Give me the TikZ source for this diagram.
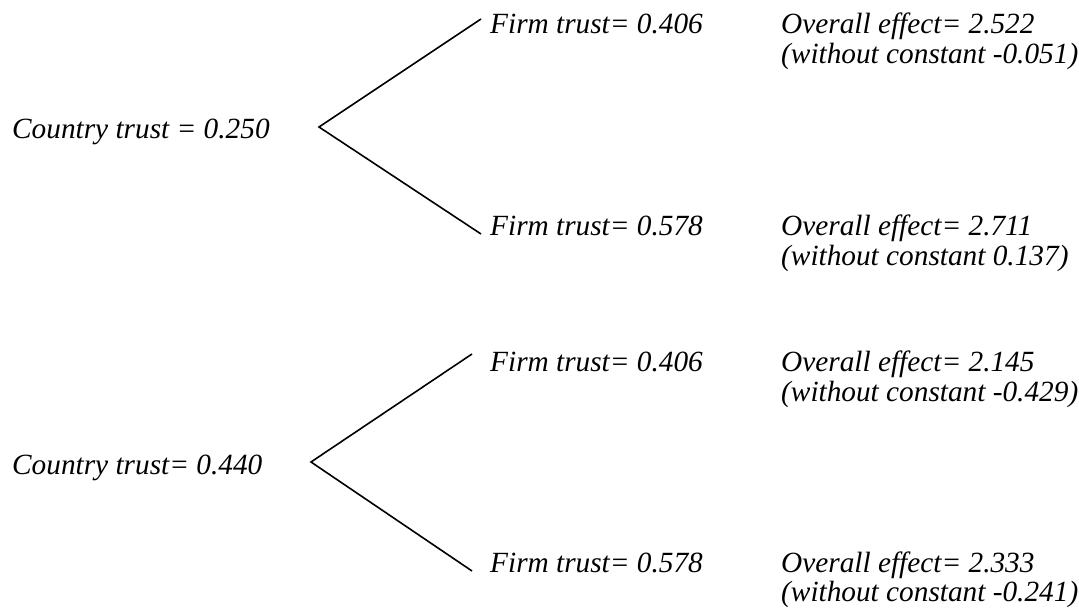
\documentclass[tikz,border=0pt]{standalone}
\usepackage{fontspec}
\setmainfont{Liberation Serif}
\usepackage{tikz}
\usetikzlibrary{positioning}

\tikzset{
    lbl/.style={anchor=base west, inner sep=0pt, font=\fontsize{29.3}{30}\selectfont\itshape},
    branch/.style={line width=1.6pt}
}

\begin{document}
\begin{tikzpicture}[x=1pt, y=-1pt]
    \useasboundingbox (0,0) rectangle (1079,612);

    % country trust = 0.250
    \node[lbl] (c1) at (12,139) {Country trust = 0.250};
    \coordinate (a1) at (319,127);
    \coordinate (u1) at (481,19);
    \coordinate (d1) at (481,234);
    \node[lbl] (f11) at (490,34) {Firm trust= 0.406};
    \node[lbl] (f12) at (490,236) {Firm trust= 0.578};
    \node[lbl] (e11) at (781,34) {Overall effect= 2.522};
    \node[lbl] (w11) at ([yshift=-30pt]e11.base west) {(without constant -0.051)};
    \node[lbl] (e12) at (781,236) {Overall effect= 2.711};
    \node[lbl] (w12) at ([yshift=-30pt]e12.base west) {(without constant 0.137)};

    % country trust = 0.440
    \node[lbl] (c2) at (12,474) {Country trust= 0.440};
    \coordinate (a2) at (311,462);
    \coordinate (u2) at (472,354);
    \coordinate (d2) at (472,571);
    \node[lbl] (f21) at (490,371) {Firm trust= 0.406};
    \node[lbl] (f22) at (490,572) {Firm trust= 0.578};
    \node[lbl] (e21) at (781,371) {Overall effect= 2.145};
    \node[lbl] (w21) at ([yshift=-30pt]e21.base west) {(without constant -0.429)};
    \node[lbl] (e22) at (781,572) {Overall effect= 2.333};
    \node[lbl] (w22) at ([yshift=-29pt]e22.base west) {(without constant -0.241)};

    \draw[branch] (u1) -- (a1) -- (d1);
    \draw[branch] (u2) -- (a2) -- (d2);
\end{tikzpicture}
\end{document}
